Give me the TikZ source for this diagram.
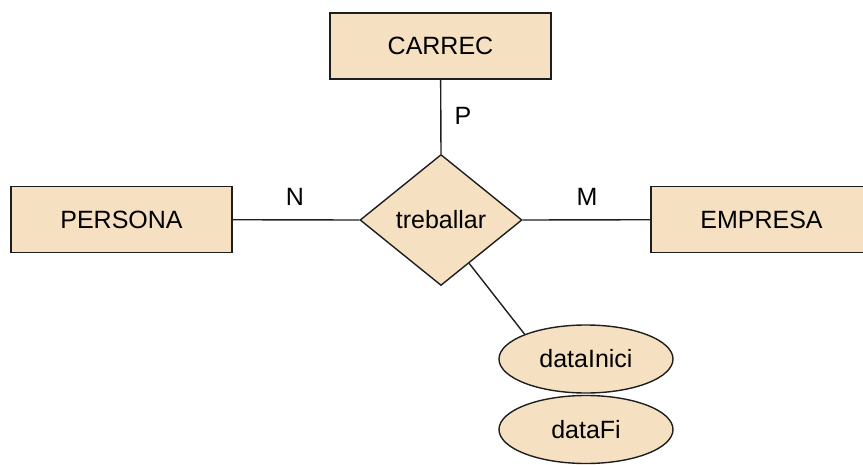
\documentclass[tikz,border=0pt]{standalone}
\usepackage{fontspec}
\setmainfont{Liberation Sans}
\usetikzlibrary{shapes.geometric}
\definecolor{erfill}{RGB}{245,225,194}
\definecolor{erline}{RGB}{30,30,30}
\tikzset{
  every node/.style={font=\fontsize{25}{30}\selectfont},
  entity/.style={draw=erline, fill=erfill, line width=1.4pt, rectangle,
    minimum width=221pt, minimum height=66pt, inner sep=0pt},
  relation/.style={draw=erline, fill=erfill, line width=1.4pt, diamond,
    minimum width=162pt, minimum height=131pt, inner sep=0pt},
  attribute/.style={draw=erline, fill=erfill, line width=1.4pt, ellipse,
    minimum width=174pt, minimum height=68pt, inner sep=0pt},
  link/.style={draw=erline, line width=1.4pt},
  card/.style={inner sep=0pt}
}
\begin{document}
\begin{tikzpicture}[x=1pt, y=-1pt]
  \useasboundingbox (0,0) rectangle (863,464);
  % entities
  \node[entity] (carrec) at (440.5,46) {CARREC};
  \node[entity] (persona) at (121.5,219.5) {PERSONA};
  \node[entity] (empresa) at (761.5,219.5) {EMPRESA};
  % relationship
  \node[relation] (treballar) at (441,220) {treballar};
  % attributes of the relationship
  \node[attribute] (inici) at (586,359) {dataInici};
  \node[attribute] (fi) at (586,429.5) {dataFi};
  % connectors
  \draw[link] (carrec) -- (treballar.north);
  \draw[link] (persona) -- (treballar.west);
  \draw[link] (treballar.east) -- (empresa);
  \draw[link] (treballar.-57) -- (inici.158);
  % cardinalities
  \node[card] (p) at (463,116) {P};
  \node[card] (n) at (295,197) {N};
  \node[card] (m) at (587,197) {M};
\end{tikzpicture}
\end{document}
